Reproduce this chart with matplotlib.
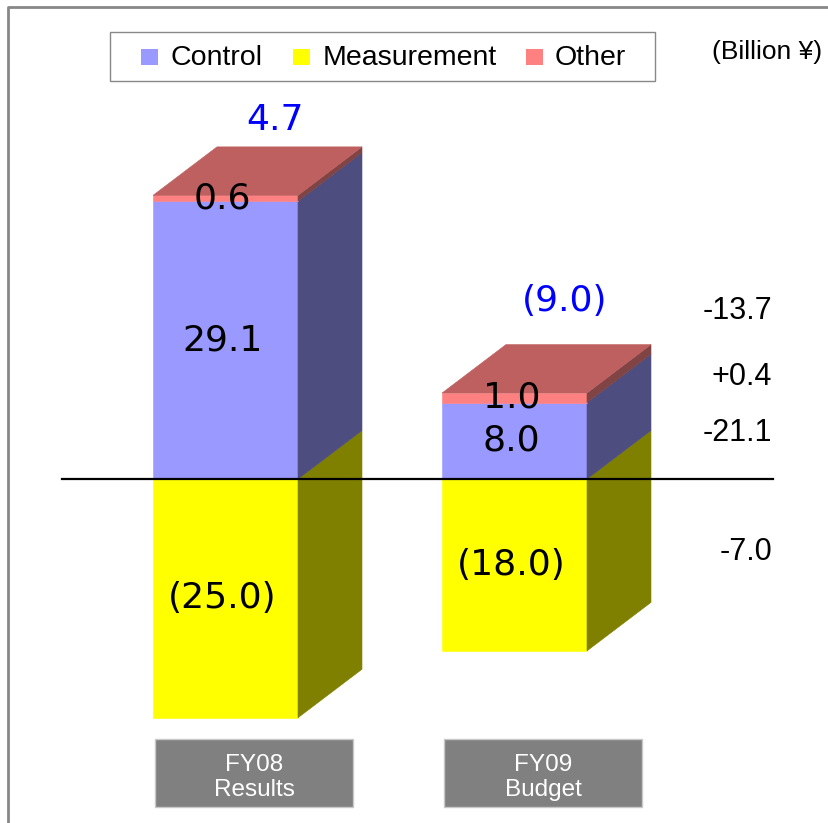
import matplotlib
matplotlib.use("Agg")
import matplotlib.pyplot as plt
from matplotlib.patches import Polygon, Rectangle
from matplotlib.lines import Line2D

# ---- data -------------------------------------------------------------
categories = ["FY08\nResults", "FY09\nBudget"]
series_names = ["Control", "Measurement", "Other"]
control = [29.1, 8.0]
measurement = [-25.0, -18.0]
other = [0.6, 1.0]
change_labels = ["-13.7", "+0.4", "-21.1", "-7.0"]
unit_label = "(Billion \u00a5)"

# ---- styles -----------------------------------------------------------
front_col = {"Control": "#9999FF", "Measurement": "#FFFF00", "Other": "#FF8080"}
side_col = {"Control": "#4D4D80", "Measurement": "#808000", "Other": "#804444"}
top_col = "#BF6060"
num_font = "DejaVu Sans"
txt_font = "Liberation Sans"

W, H = 829, 823
fig = plt.figure(figsize=(W / 100, H / 100), dpi=100)

# value axes: y in billion yen, x in pixels
px_per_unit = 9.55
zero_px = 479
ax = fig.add_axes([0, 0, 1, 1])
ax.set_xlim(0, W)
ax.set_ylim(-(H - zero_px) / px_per_unit, zero_px / px_per_unit)
ax.axis("off")

# overlay axes for decorations, pixel coordinates from the top-left
deco = fig.add_axes([0, 0, 1, 1], zorder=-1)
deco.set_xlim(0, W)
deco.set_ylim(H, 0)
deco.axis("off")

bar_left = [153, 442]
bar_w = 145
depth_x = 64
depth_y = 48.5 / px_per_unit
total_lift = [2.8, 4.6]


def fmt(v):
    return f"{v:.1f}" if v >= 0 else f"({abs(v):.1f})"


def face(pts, color, z=2):
    ax.add_patch(Polygon(pts, closed=True, facecolor=color, edgecolor=color,
                         linewidth=0.4, zorder=z))


for i, x in enumerate(bar_left):
    segs = [("Measurement", measurement[i], 0.0),
            ("Control", 0.0, control[i]),
            ("Other", control[i], control[i] + other[i])]
    xr = x + bar_w
    for name, y0, y1 in segs:
        face([(x, y0), (xr, y0), (xr, y1), (x, y1)], front_col[name])
        face([(xr, y0), (xr, y1), (xr + depth_x, y1 + depth_y),
              (xr + depth_x, y0 + depth_y)], side_col[name])
    t = control[i] + other[i]
    face([(x, t), (xr, t), (xr + depth_x, t + depth_y), (x + depth_x, t + depth_y)],
         top_col, z=3)

    cx = x + bar_w / 2
    for name, y0, y1 in segs:
        v = y1 - y0 if name != "Measurement" else y0
        ax.text(cx - 3, (y0 + y1) / 2, fmt(v), ha="center", va="center",
                fontsize=26, family=num_font, color="black", zorder=5)

    total = control[i] + measurement[i] + other[i]
    ax.text(cx + 50, t + depth_y + total_lift[i], fmt(round(total, 1)),
            ha="center", va="center", fontsize=26, family=num_font,
            color="#0000FF", zorder=5)

    # category label box
    bx = x + 2
    deco.add_patch(Rectangle((bx, 739), 198, 68, facecolor="#808080",
                             edgecolor="#C8C8C8", linewidth=1))
    line1, line2 = categories[i].split("\n")
    deco.text(bx + 99, 765, line1, ha="center", va="center", color="white",
              fontsize=17.5, family=txt_font)
    deco.text(bx + 99, 790, line2, ha="center", va="center", color="white",
              fontsize=17.5, family=txt_font)

# zero line
ax.plot([62, 773], [0, 0], color="black", linewidth=1.6, zorder=6)

# change labels on the right
for lbl, yp in zip(change_labels, [311, 377, 433, 552]):
    deco.text(772, yp, lbl, ha="right", va="center", fontsize=22,
              family=txt_font, color="black")

# legend
deco.add_patch(Rectangle((110, 32), 545, 49, facecolor="white",
                         edgecolor="#888888", linewidth=1))
for name, sx, tx in zip(series_names, [141, 293, 526], [171, 323, 555]):
    deco.add_patch(Rectangle((sx, 49), 17, 16, facecolor=front_col[name],
                             edgecolor="none"))
    deco.text(tx, 57.5, name, ha="left", va="center", fontsize=20.5,
              family=txt_font, color="black")

deco.text(822, 52, unit_label, ha="right", va="center", fontsize=19,
          family=txt_font, color="black")

# outer frame (top and left edges)
deco.add_line(Line2D([8, 8, W], [H, 7, 7], color="#888888", linewidth=2))

fig.savefig("out.png", dpi=100)
